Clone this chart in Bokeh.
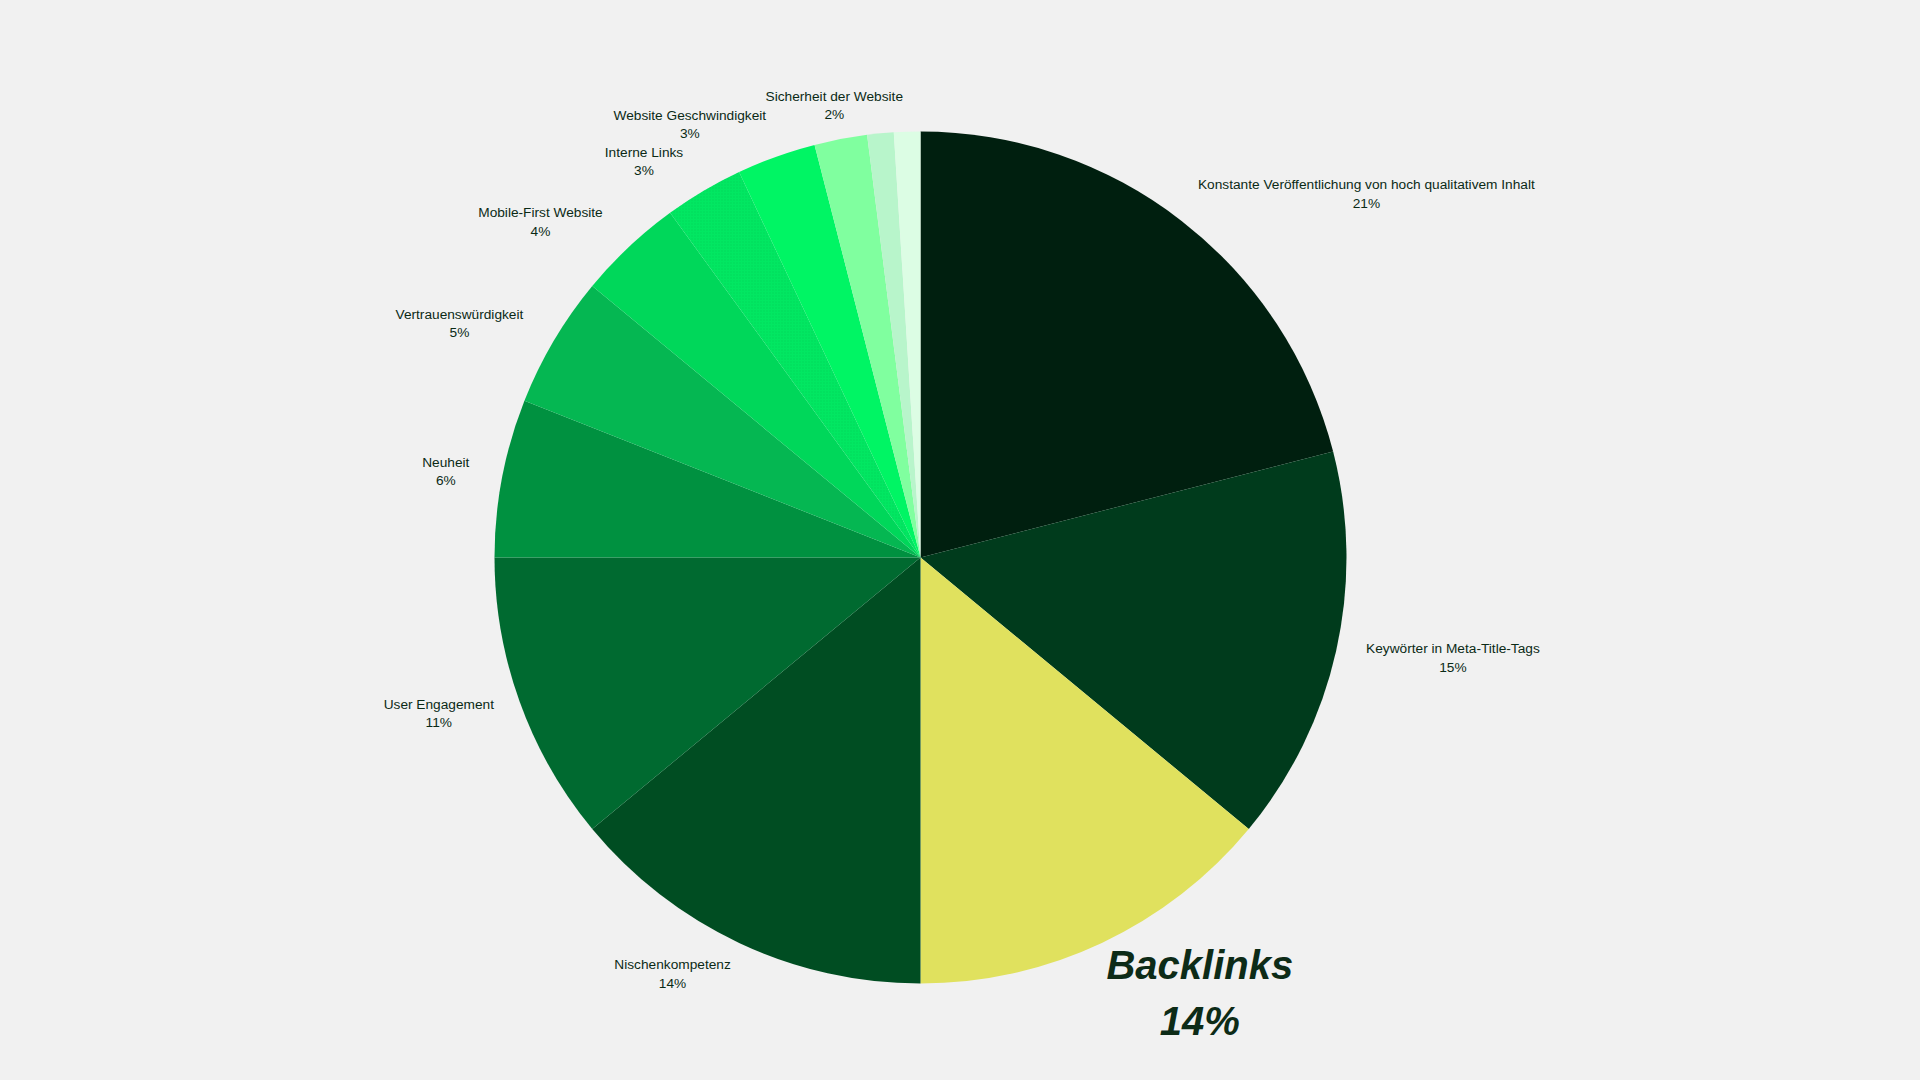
import math
from bokeh.plotting import figure
from bokeh.models import ColumnDataSource
from bokeh.core.properties import value
from bokeh.embed import file_html
from bokeh.resources import INLINE

# ---- data ----
categories = [
    "Konstante Veröffentlichung von hoch qualitativem Inhalt",
    "Keywörter in Meta-Title-Tags",
    "Backlinks",
    "Nischenkompetenz",
    "User Engagement",
    "Neuheit",
    "Vertrauenswürdigkeit",
    "Mobile-First Website",
    "Interne Links",
    "Website Geschwindigkeit",
    "Sicherheit der Website",
    "Sonstige A",
    "Sonstige B",
]
shares = [21, 15, 14, 14, 11, 6, 5, 4, 3, 3, 2, 1, 1]
colors = [
    "#001f0f", "#003b1c", "#e0e15e", "#004d22", "#006a30", "#009140",
    "#05b752", "#00d75a", "#02e762", "#00f564", "#80ff9f", "#b8f5cb", "#dcfde4",
]
highlight = "Backlinks"

# ---- layout ----
W, H = 1904, 1064
BG = "#f1f1f1"
cx, cy, R = 920, 507, 426
label_fs = 13.7
line_gap = 18.5
big_fs = 40
big_gap = 56
text_color = "#0b2a16"

p = figure(width=W, height=H, x_range=(0, W), y_range=(0, H),
           output_backend="svg", toolbar_location=None, min_border=0)
p.axis.visible = False
p.grid.visible = False
p.outline_line_color = None
p.background_fill_color = BG
p.border_fill_color = BG

total = float(sum(shares))
starts, ends, mids = [], [], []
acc = 0.0
for s in shares:
    t1 = acc / total * 360.0
    acc += s
    t2 = acc / total * 360.0
    starts.append(math.radians(90 - t1))
    ends.append(math.radians(90 - t2))
    mids.append(math.radians((t1 + t2) / 2.0))

hatch = ["dot" if c == "Interne Links" else " " for c in categories]
src = ColumnDataSource(dict(x=[cx] * len(shares), y=[cy] * len(shares),
                            start=starts, end=ends, color=colors, hatch=hatch,
                            name=categories, share=shares))
p.wedge(x="x", y="y", radius=R, start_angle="start", end_angle="end",
        direction="clock", fill_color="color", line_color=None,
        hatch_pattern="hatch", hatch_color="#00c452", hatch_scale=3,
        hatch_alpha=0.5, source=src)

# ---- labels ----
nx, ny, nt, px_, py_, pt = [], [], [], [], [], []
for name, s, th in zip(categories, shares, mids):
    if s < 2 or name == highlight:
        continue
    ax = cx + 1.08 * R * math.sin(th)
    ay = cy + 1.08 * R * math.cos(th)
    w = len(name) * 0.5 * label_fs
    sn = math.sin(th)
    if abs(sn) < 0.3:
        bx = ax
    elif sn > 0:
        bx = ax + 0.87 * w / 2
    else:
        bx = ax - 0.95 * w / 2
    nx.append(bx); ny.append(ay + line_gap / 2); nt.append(name)
    px_.append(bx); py_.append(ay - line_gap / 2); pt.append(f"{s}%")

p.text(x=nx + px_, y=ny + py_, text=nt + pt, text_align="center",
       text_baseline="middle", text_font=value("Liberation Sans"),
       text_font_size=f"{label_fs}px", text_color=text_color)

# highlighted slice label
i = categories.index(highlight)
th = mids[i]
ax = cx + 1.13 * R * math.sin(th)
ay = cy + 1.13 * R * math.cos(th)
bw = 186
bx = ax + bw * 0.4
p.text(x=[bx, bx], y=[ay + big_gap / 2, ay - big_gap / 2],
       text=[highlight, f"{shares[i]}%"], text_align="center",
       text_baseline="middle", text_font=value("Liberation Sans"),
       text_font_size=f"{big_fs}px", text_font_style="bold italic",
       text_color="#0d2b17")

html = file_html(p, INLINE)
html = html.replace("<body>", '<body style="background-color:#f1f1f1;">')
open("out.html", "w").write(html)
